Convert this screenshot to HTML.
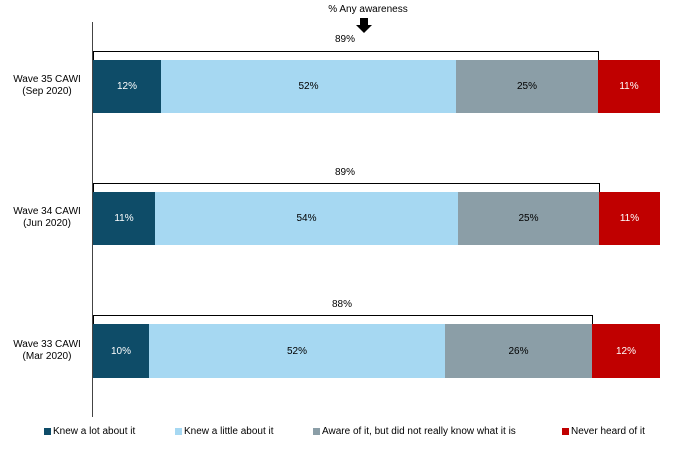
<!DOCTYPE html>
<html><head><style>
body{margin:0;width:700px;height:457px;background:#fff;font-family:"Liberation Sans",Arial,sans-serif;position:relative;overflow:hidden}
div{position:absolute}
.s{top:0;height:100%;display:flex;align-items:center;justify-content:center;font-size:10px}
.l{font-size:10px;text-align:center;width:90px;left:2px;line-height:12px;color:#000}
.t{font-size:10px;width:60px;text-align:center;white-space:nowrap}
.br{height:8px;border:1.3px solid #000;border-bottom:none}
.lg{top:426px;font-size:10px;display:flex;align-items:center;white-space:nowrap}
.lg span{display:inline-block;width:7px;height:7px;margin-right:2px}
</style></head><body>
<div style="left:92px;top:22px;width:1px;height:395px;background:#444"></div>
<div class="t" style="left:318px;top:4px;width:100px">% Any awareness</div>
<svg style="position:absolute;left:356px;top:18px" width="16" height="16"><polygon points="4,0 12,0 12,7 16,7 8,15 0,7 4,7" fill="#000"/></svg>

<div class="br" style="left:93px;top:51px;width:504px"></div>
<div class="t" style="left:315px;top:34px">89%</div>
<div style="left:93px;top:60px;width:567px;height:53px">
<div class="s" style="left:0;width:68px;background:#0e4c68;color:#fff">12%</div>
<div class="s" style="left:68px;width:295px;background:#a6d8f2">52%</div>
<div class="s" style="left:363px;width:142px;background:#8b9ea7">25%</div>
<div class="s" style="left:505px;width:62px;background:#c00000;color:#fff">11%</div>
</div>
<div class="l" style="top:74px">Wave 35 CAWI<br>(Sep 2020)</div>

<div class="br" style="left:93px;top:183px;width:505px"></div>
<div class="t" style="left:315px;top:167px">89%</div>
<div style="left:93px;top:192px;width:567px;height:53px">
<div class="s" style="left:0;width:62px;background:#0e4c68;color:#fff">11%</div>
<div class="s" style="left:62px;width:303px;background:#a6d8f2">54%</div>
<div class="s" style="left:365px;width:141px;background:#8b9ea7">25%</div>
<div class="s" style="left:506px;width:61px;background:#c00000;color:#fff">11%</div>
</div>
<div class="l" style="top:206px">Wave 34 CAWI<br>(Jun 2020)</div>

<div class="br" style="left:93px;top:315px;width:498px"></div>
<div class="t" style="left:312px;top:299px">88%</div>
<div style="left:93px;top:324px;width:567px;height:54px">
<div class="s" style="left:0;width:56px;background:#0e4c68;color:#fff">10%</div>
<div class="s" style="left:56px;width:296px;background:#a6d8f2">52%</div>
<div class="s" style="left:352px;width:147px;background:#8b9ea7">26%</div>
<div class="s" style="left:499px;width:68px;background:#c00000;color:#fff">12%</div>
</div>
<div class="l" style="top:339px">Wave 33 CAWI<br>(Mar 2020)</div>

<div class="lg" style="left:44px"><span style="background:#0e4c68"></span>Knew a lot about it</div>
<div class="lg" style="left:175px"><span style="background:#a6d8f2"></span>Knew a little about it</div>
<div class="lg" style="left:313px"><span style="background:#8b9ea7"></span>Aware of it, but did not really know what it is</div>
<div class="lg" style="left:562px"><span style="background:#c00000"></span>Never heard of it</div>
</body></html>
